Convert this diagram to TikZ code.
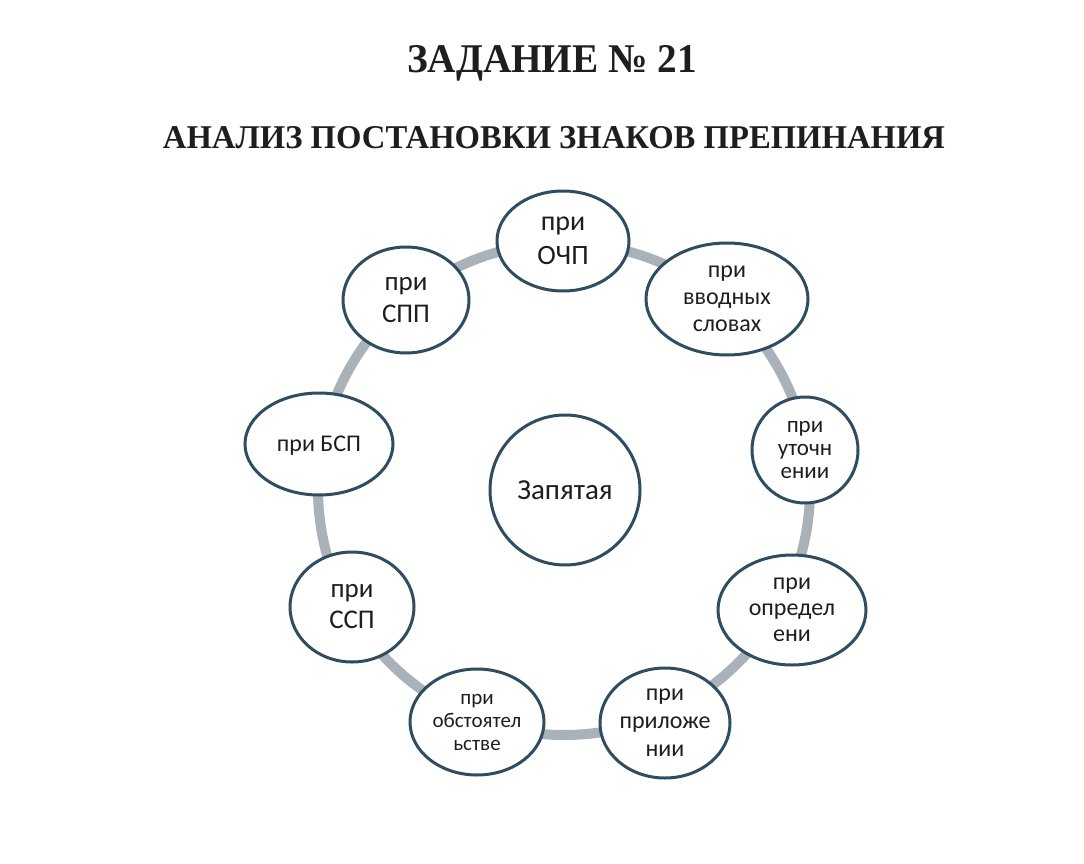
\documentclass[tikz,border=0pt]{standalone}
\usepackage{fontspec}
\setmainfont{Carlito}
\newfontfamily\titlefont{Liberation Serif}
\usetikzlibrary{shapes.geometric}
\definecolor{ringgray}{HTML}{A9B1B9}
\definecolor{nodeblue}{HTML}{2E4D60}
\definecolor{txt}{HTML}{1E1E1E}
\newcommand{\fs}[2]{\fontsize{#1}{#2}\selectfont}
\begin{document}
\begin{tikzpicture}[x=1pt,y=-1pt,
  bub/.style={ellipse, draw=nodeblue, line width=3pt, fill=white, inner sep=0pt, align=center, text=txt},
  lower/.style={execute at begin node={\rule{0pt}{\dimexpr0.64em+4pt\relax}}},
  ring/.style={draw=ringgray, line width=10pt},
  ttl/.style={anchor=base, inner sep=0pt, text=txt}
]
\useasboundingbox (0,0) rectangle (1084,864);
\fill[white] (0,0) rectangle (1084,864);
\node[ttl] (title) at (552,73) {\resizebox{290pt}{27pt}{\titlefont\bfseries ЗАДАНИЕ № 21}};
\node[ttl] (subtitle) at (554,149) {\resizebox{782pt}{22pt}{\titlefont\bfseries АНАЛИЗ ПОСТАНОВКИ ЗНАКОВ ПРЕПИНАНИЯ}};
\coordinate (c) at (564,489);
\draw[ring] (c) circle[radius=246];
\node[bub, lower, minimum width=132pt, minimum height=100pt, font=\fs{28}{34}] (ochp) at (563,241) {при\\ОЧП};
\node[bub, lower, minimum width=162pt, minimum height=112pt, font=\fs{24}{27}] (vvod) at (727,299) {при\\вводных\\словах};
\node[bub, lower, minimum width=106pt, minimum height=106pt, font=\fs{23}{23}] (utoch) at (805,450) {при\\уточн\\ении};
\node[bub, lower, minimum width=148pt, minimum height=110pt, font=\fs{24}{26}] (opred) at (792,610) {при\\определ\\ени};
\node[bub, lower, minimum width=130pt, minimum height=110pt, font=\fs{24}{28}] (pril) at (665,723) {при\\приложе\\нии};
\node[bub, lower, minimum width=134pt, minimum height=106pt, font=\fs{21}{23}] (obst) at (477,722) {при\\обстоятел\\ьстве};
\node[bub, lower, minimum width=124pt, minimum height=110pt, font=\fs{27}{31}] (ssp) at (352,607) {при\\ССП};
\node[bub, lower, minimum width=148pt, minimum height=102pt, font=\fs{24}{28}] (bsp) at (319,444) {при БСП};
\node[bub, lower, minimum width=126pt, minimum height=106pt, font=\fs{27}{32}] (spp) at (406,300) {при\\СПП};
\node[bub, circle, minimum size=150pt, font=\fs{29}{32}] (zap) at (565,490) {Запятая};
\end{tikzpicture}
\end{document}
